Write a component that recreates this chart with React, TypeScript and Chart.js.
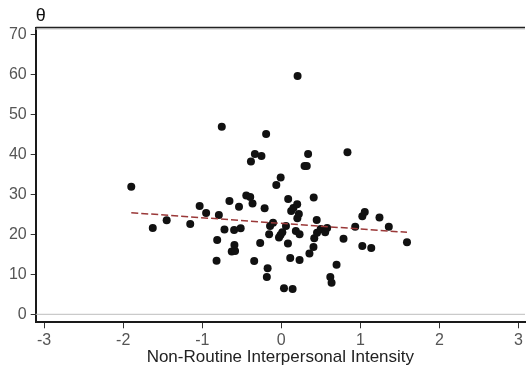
import React, { useEffect, useRef } from "react";
import { Chart, registerables } from "chart.js";

Chart.register(...registerables);

const xValues = [
  -1.898, -1.626, -1.45, -1.152, -1.033, -0.951, -0.819, -0.811, -0.79, -0.753,
  -0.719, -0.656, -0.627, -0.585, -0.593, -0.597, -0.535, -0.514, -0.443, -0.393,
  -0.384, -0.364, -0.334, -0.343, -0.267, -0.251, -0.211, -0.192, -0.173, -0.183,
  -0.154, -0.142, -0.104, -0.063, -0.008, -0.029, -0.01, 0.013, 0.034, 0.059,
  0.087, 0.084, 0.113, 0.125, 0.143, 0.153, 0.201, 0.184, 0.206, 0.203,
  0.222, 0.231, 0.231, 0.294, 0.322, 0.339, 0.356, 0.407, 0.41, 0.417,
  0.448, 0.452, 0.498, 0.555, 0.58, 0.62, 0.636, 0.699, 0.787, 0.837,
  0.935, 1.025, 1.056, 1.025, 1.138, 1.242, 1.36, 1.59,
];
const yValues = [
  31.9, 21.6, 23.5, 22.6, 27.1, 25.3, 13.4, 18.6, 24.8, 46.9,
  21.2, 28.3, 15.7, 15.8, 17.3, 21.1, 26.9, 21.5, 29.7, 29.3,
  38.2, 27.7, 40.1, 13.3, 17.8, 39.6, 26.5, 45.1, 11.5, 9.3,
  20.0, 22.1, 22.9, 32.3, 34.2, 19.2, 19.8, 20.5, 6.5, 22.1,
  28.8, 17.7, 14.1, 25.8, 6.3, 26.6, 27.5, 20.8, 59.6, 24.0,
  25.1, 20.0, 13.6, 37.1, 37.1, 40.1, 15.2, 16.8, 29.2, 19.0,
  23.6, 20.4, 21.3, 20.5, 21.6, 9.3, 7.9, 12.4, 18.9, 40.5,
  21.9, 24.5, 25.6, 17.1, 16.6, 24.2, 21.9, 18.0,
];
const fitX = [-1.898, 1.59];
const fitY = [25.4, 20.5];
const xTicks = [-3, -2, -1, 0, 1, 2, 3];
const yTicks = [0, 10, 20, 30, 40, 50, 60, 70];
const xTitle = "Non-Routine Interpersonal Intensity";
const yTitle = "θ";

const FONT = "'Liberation Sans', Arial, Helvetica, sans-serif";

const framePlugin = {
  id: "frame",
  beforeDatasetsDraw(chart: any) {
    const { ctx, chartArea } = chart;
    const y0 = chart.scales.y.getPixelForValue(0);
    ctx.save();
    ctx.strokeStyle = "#bdbdbd";
    ctx.lineWidth = 1;
    ctx.beginPath();
    ctx.moveTo(chartArea.left, y0);
    ctx.lineTo(chartArea.right, y0);
    ctx.stroke();
    ctx.strokeStyle = "#c8c8c8";
    ctx.beginPath();
    ctx.moveTo(chartArea.left, chartArea.top + 1.5);
    ctx.lineTo(chartArea.right, chartArea.top + 1.5);
    ctx.stroke();
    ctx.strokeStyle = "#222";
    ctx.lineWidth = 1.5;
    ctx.beginPath();
    ctx.moveTo(chartArea.left, chartArea.top);
    ctx.lineTo(chartArea.right, chartArea.top);
    ctx.stroke();
    ctx.restore();
  },
  afterDraw(chart: any) {
    const { ctx, chartArea } = chart;
    ctx.save();
    ctx.fillStyle = "#111";
    ctx.font = `18px ${FONT}`;
    ctx.textAlign = "left";
    ctx.textBaseline = "middle";
    ctx.fillText(yTitle, chartArea.left, 16);
    ctx.restore();
  },
};

export default function App() {
  const ref = useRef<HTMLCanvasElement | null>(null);
  useEffect(() => {
    if (!ref.current) return;
    const points = xValues.map((x, i) => ({ x, y: yValues[i] }));
    const fit = fitX.map((x, i) => ({ x, y: fitY[i] }));
    const chart = new Chart(ref.current, {
      type: "scatter",
      data: {
        datasets: [
          {
            type: "line",
            data: fit,
            borderColor: "#9a3838",
            borderWidth: 1.5,
            borderDash: [7, 3],
            pointRadius: 0,
            fill: false,
            order: 0,
          } as any,
          {
            type: "scatter",
            data: points,
            pointRadius: 4,
            pointHoverRadius: 4,
            backgroundColor: "#111",
            borderWidth: 0,
            order: 1,
          } as any,
        ],
      },
      options: {
        responsive: false,
        animation: false,
        devicePixelRatio: 1,
        layout: { padding: { top: 27.5, left: 0, right: 0, bottom: 0 } },
        plugins: { legend: { display: false }, tooltip: { enabled: false } },
        scales: {
          x: {
            type: "linear",
            min: -3.107,
            max: 3.083,
            afterBuildTicks: (s: any) => {
              s.ticks = xTicks.map((v) => ({ value: v }));
            },
            afterFit: (s: any) => {
              s.height = 50.7;
            },
            ticks: {
              color: "#555",
              font: { size: 16, family: FONT },
              padding: 3,
              maxRotation: 0,
              autoSkip: false,
              callback: (v: any) => String(v),
            },
            grid: {
              display: true,
              drawOnChartArea: false,
              drawTicks: true,
              tickLength: 6,
              color: "#333",
              lineWidth: 1,
            },
            border: { display: true, color: "#1a1a1a", width: 2 },
            title: {
              display: true,
              text: xTitle,
              color: "#222",
              font: { size: 17, family: FONT },
              padding: { top: 0, bottom: 5 },
            },
          },
          y: {
            type: "linear",
            min: -2,
            max: 71.7,
            afterBuildTicks: (s: any) => {
              s.ticks = yTicks.map((v) => ({ value: v }));
            },
            afterFit: (s: any) => {
              s.width = 35.7;
            },
            ticks: {
              color: "#555",
              font: { size: 16, family: FONT },
              padding: 4,
              autoSkip: false,
              callback: (v: any) => String(v),
            },
            grid: {
              display: true,
              drawOnChartArea: false,
              drawTicks: true,
              tickLength: 5,
              color: "#333",
              lineWidth: 1,
            },
            border: { display: true, color: "#1a1a1a", width: 2 },
          },
        },
      } as any,
      plugins: [framePlugin],
    });
    return () => chart.destroy();
  }, []);
  return (
    <div style={{ position: "absolute", left: 0, top: 0, width: 529, height: 373, background: "#fff" }}>
      <canvas ref={ref} width={529} height={373} />
    </div>
  );
}
